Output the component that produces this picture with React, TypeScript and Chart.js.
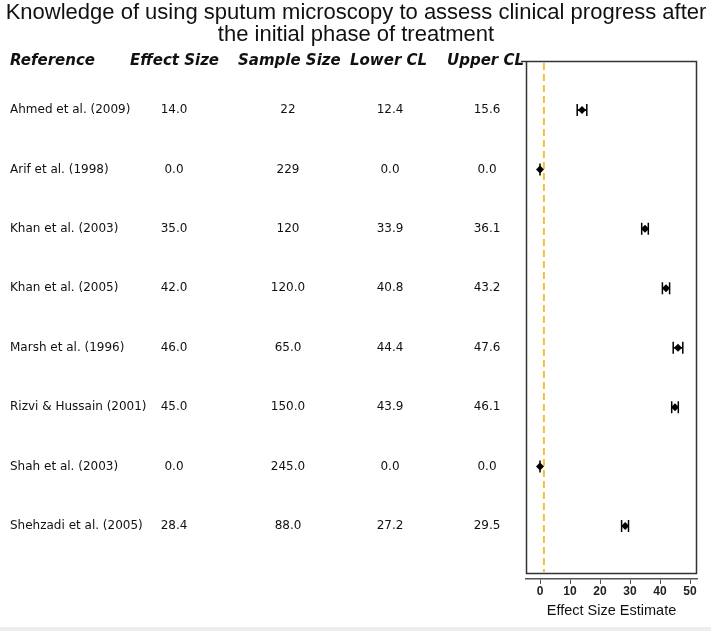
import { useEffect, useRef } from 'react';
import { Chart, registerables } from 'chart.js';

Chart.register(...registerables);

const titleLines = [
  'Knowledge of using sputum microscopy to assess clinical progress after',
  'the initial phase of treatment',
];
const columnHeaders = ['Reference', 'Effect Size', 'Sample Size', 'Lower CL', 'Upper CL'];
const references = [
  'Ahmed et al. (2009)',
  'Arif et al. (1998)',
  'Khan et al. (2003)',
  'Khan et al. (2005)',
  'Marsh et al. (1996)',
  'Rizvi & Hussain (2001)',
  'Shah et al. (2003)',
  'Shehzadi et al. (2005)',
];
const effectSizes = [14.0, 0.0, 35.0, 42.0, 46.0, 45.0, 0.0, 28.4];
const sampleSizeLabels = ['22', '229', '120', '120.0', '65.0', '150.0', '245.0', '88.0'];
const lowerCL = [12.4, 0.0, 33.9, 40.8, 44.4, 43.9, 0.0, 27.2];
const upperCL = [15.6, 0.0, 36.1, 43.2, 47.6, 46.1, 0.0, 29.5];
const referenceLineValue = 1.3;
const xTicks = [0, 10, 20, 30, 40, 50];
const xAxisTitle = 'Effect Size Estimate';

const headerX = [10, 130, 238, 350, 447];
const columnCenters = [174, 288, 390, 487];

const forestPlugin = {
  id: 'forestTable',
  beforeDraw(chart: any) {
    const ctx = chart.ctx as CanvasRenderingContext2D;
    const { left, right, top, bottom } = chart.chartArea;
    const xScale = chart.scales.x;
    const yScale = chart.scales.y;
    ctx.save();
    ctx.fillStyle = '#ffffff';
    ctx.fillRect(0, 0, chart.width, chart.height);
    ctx.fillStyle = '#eeeeee';
    ctx.fillRect(0, chart.height - 4, chart.width, 4);

    // title
    ctx.fillStyle = '#111';
    ctx.font = '22px "Liberation Sans", Arial, sans-serif';
    ctx.textAlign = 'center';
    ctx.textBaseline = 'alphabetic';
    ctx.fillText(titleLines[0], 356, 19);
    ctx.fillText(titleLines[1], 356, 41);

    // headers
    ctx.font = 'italic bold 15px "DejaVu Sans", sans-serif';
    ctx.textAlign = 'left';
    columnHeaders.forEach((h, i) => ctx.fillText(h, headerX[i], 65));

    // rows
    ctx.font = '12px "DejaVu Sans", sans-serif';
    ctx.textBaseline = 'middle';
    references.forEach((r, i) => {
      const y = yScale.getPixelForValue(i);
      ctx.textAlign = 'left';
      ctx.fillText(r, 10, y);
      ctx.textAlign = 'center';
      ctx.fillText(effectSizes[i].toFixed(1), columnCenters[0], y);
      ctx.fillText(sampleSizeLabels[i], columnCenters[1], y);
      ctx.fillText(lowerCL[i].toFixed(1), columnCenters[2], y);
      ctx.fillText(upperCL[i].toFixed(1), columnCenters[3], y);
    });

    // plot box
    const boxBottom = bottom - 6;
    ctx.strokeStyle = '#333';
    ctx.lineWidth = 1.5;
    ctx.strokeRect(left + 0.5, top + 0.5, right - left - 1, boxBottom - top);
    ctx.beginPath();
    ctx.moveTo(left - 5, top + 0.5);
    ctx.lineTo(left, top + 0.5);
    ctx.stroke();

    // reference dashed line
    const rx = xScale.getPixelForValue(referenceLineValue);
    ctx.strokeStyle = '#f2c23a';
    ctx.lineWidth = 2;
    ctx.setLineDash([7, 4]);
    ctx.beginPath();
    ctx.moveTo(rx, top + 2);
    ctx.lineTo(rx, boxBottom - 1);
    ctx.stroke();
    ctx.setLineDash([]);
    ctx.restore();
  },
  beforeDatasetsDraw(chart: any) {
    const ctx = chart.ctx as CanvasRenderingContext2D;
    const xScale = chart.scales.x;
    const yScale = chart.scales.y;
    ctx.save();
    ctx.strokeStyle = '#000';
    ctx.lineWidth = 1.5;
    references.forEach((_, i) => {
      const y = yScale.getPixelForValue(i);
      const x1 = xScale.getPixelForValue(lowerCL[i]);
      const x2 = xScale.getPixelForValue(upperCL[i]);
      ctx.beginPath();
      ctx.moveTo(x1, y);
      ctx.lineTo(x2, y);
      ctx.moveTo(x1, y - 6);
      ctx.lineTo(x1, y + 6);
      ctx.moveTo(x2, y - 6);
      ctx.lineTo(x2, y + 6);
      ctx.stroke();
    });
    ctx.restore();
  },
};

export default function App() {
  const canvasRef = useRef<HTMLCanvasElement | null>(null);
  useEffect(() => {
    if (!canvasRef.current) return;
    const chart = new Chart(canvasRef.current, {
      type: 'scatter',
      data: {
        datasets: [
          {
            label: 'Effect Size',
            data: effectSizes.map((v, i) => ({ x: v, y: i })),
            pointStyle: 'rectRot',
            radius: 4,
            backgroundColor: '#000',
            borderColor: '#000',
            borderWidth: 0,
          },
        ],
      },
      options: {
        animation: false,
        responsive: false,
        devicePixelRatio: 1,
        layout: { padding: { left: 526, right: 14, top: 61, bottom: 7.2 } },
        plugins: {
          legend: { display: false },
          tooltip: { enabled: false },
          title: { display: false },
        },
        scales: {
          x: {
            type: 'linear',
            position: 'bottom',
            min: -4.667,
            max: 52.333,
            afterBuildTicks: (scale: any) => {
              scale.ticks = xTicks.map((v) => ({ value: v }));
            },
            grid: {
              display: true,
              drawOnChartArea: false,
              drawTicks: true,
              tickLength: 5,
              color: '#555',
              lineWidth: 1,
            },
            border: { display: true, color: '#555', width: 1.5 },
            ticks: {
              padding: 0,
              color: '#222',
              font: { family: '"Liberation Sans", Arial, sans-serif', size: 12, weight: 'bold' },
            },
            title: {
              display: true,
              text: xAxisTitle,
              color: '#111',
              font: { family: '"Liberation Sans", Arial, sans-serif', size: 14.5 },
              padding: { top: 4, bottom: 4 },
            },
          },
          y: {
            type: 'linear',
            display: false,
            reverse: true,
            min: -0.8245,
            max: 7.892,
          },
        },
      },
      plugins: [forestPlugin],
    } as any);
    return () => chart.destroy();
  }, []);
  return (
    <div style={{ position: 'fixed', left: 0, top: 0, width: 711, height: 631 }}>
      <canvas ref={canvasRef} width={711} height={631} />
    </div>
  );
}
